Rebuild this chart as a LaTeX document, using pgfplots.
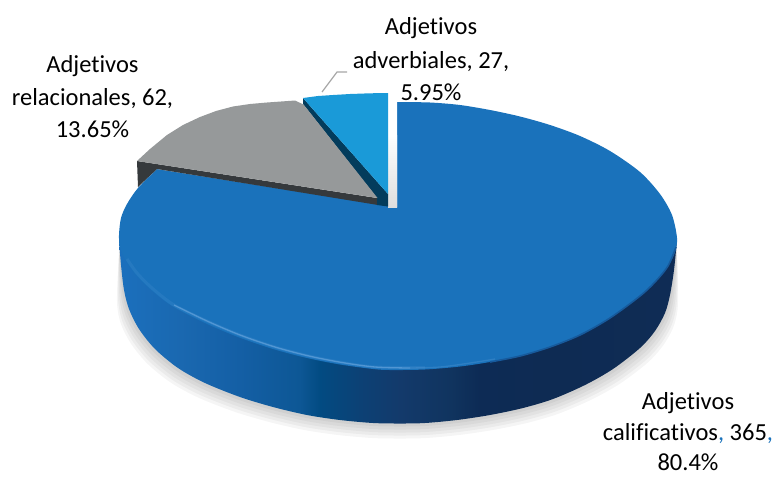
\documentclass[border=0pt]{standalone}
\usepackage{pgfplots}
\usepackage{pgfplotstable}
\usepackage{fontspec}
\setmainfont{Carlito}[Ligatures=NoCommon]
\pgfplotsset{compat=1.18}
\definecolor{topblue}{HTML}{1A72BB}
\definecolor{rimlight}{HTML}{6AA6DE}
\definecolor{rimdark}{HTML}{175A9C}
\definecolor{slicegray}{HTML}{96999A}
\definecolor{darkgray}{HTML}{35393C}
\definecolor{darkteal}{HTML}{033C5C}
\definecolor{lightblue}{HTML}{1A9AD8}
\definecolor{sa}{HTML}{1B6FBC}
\definecolor{sb}{HTML}{1A68B0}
\definecolor{sc}{HTML}{145FA5}
\definecolor{sd}{HTML}{0D5795}
\definecolor{se}{HTML}{024B82}
\definecolor{sf}{HTML}{0C4175}
\definecolor{sg}{HTML}{133A6B}
\definecolor{sh}{HTML}{10345F}
\definecolor{si}{HTML}{0D2B55}
\definecolor{sj}{HTML}{0E2B53}
\definecolor{sk}{HTML}{0F2C55}
\pgfdeclarehorizontalshading{pieside}{100bp}{color(0bp)=(sa);color(25.5bp)=(sa);color(30.5bp)=(sb);color(35.8bp)=(sc);color(41.2bp)=(sd);color(43bp)=(se);color(46.6bp)=(sf);color(50.2bp)=(sg);color(54.7bp)=(sh);color(57.3bp)=(si);color(63.6bp)=(sj);color(75bp)=(sk);color(100bp)=(sk)}
\pgfdeclareverticalshading{gapshade}{100bp}{color(0bp)=(black!13);color(25bp)=(black!13);color(75bp)=(white);color(100bp)=(white)}
\pgfplotstableread{
x y
119 240
121 265
124 290
129 309
139 329
155 349
178 368
205 383
240 397
273 407
307 415
340 420
373 423
400 423.5
425 423
457 420
490 415
523 408
553 399
585 385
613 369
640 348
655 331
665 313
670 295
674 270
677 240
}\silhouette
\newcommand{\shadowlayer}[2]{\addplot[fill=black,draw=none,fill opacity=0.04,smooth,tension=0.5] table[x expr={398+(\thisrow{x}-398)*(1+#1*min(1,(\thisrow{y}-240)/60))},y expr={\thisrow{y}+#2}] {\silhouette};}
\begin{document}
\begin{tikzpicture}[x=1pt,y=1pt]
\path[use as bounding box] (0,0) rectangle (783,477);
\begin{axis}[at={(0,0)},anchor=south west,scale only axis,width=783pt,height=477pt,
  xmin=0,xmax=783,ymin=0,ymax=477,y dir=reverse,hide axis,clip=false,no markers]
% soft shadow
\shadowlayer{0.030}{15}
\shadowlayer{0.025}{12}
\shadowlayer{0.019}{9}
\shadowlayer{0.013}{6}
\shadowlayer{0.007}{3}
% side of the large slice
\addplot[shading=pieside,draw=none,smooth,tension=0.5] table[x=x,y=y] {\silhouette};
% top of the large slice: 80.4%
\addplot[fill=topblue,draw=none,smooth,tension=0.5] coordinates {
(397,102)(430,102.5)(460,105)(490,110)(520,116.5)(550,125)(580,136)(610,151)(640,172)(660,194)(672,215)(677,238)
(675,252)(668,266)(655,282)(640,296)(610,318)(580,335)(550,347)(520,356)(490,362)(460,366.5)(425,369.5)(390,370)
(373,369)(340,364.5)(307,358)(273,349)(238,337)(205,323)(172,306)(150,289)(135,274)(125,259)(120,247)(119,235)
(121,218)(127,204)(138,188)(157,169)};
% rim light and shade
\addplot[rimdark,line width=1.6pt,smooth,tension=0.5] coordinates {(676,247)(668,266)(655,282)(640,296)(610,318)(580,335)(550,347)(520,356)(490,362)};
\addplot[rimlight,line width=3pt,opacity=0.15,smooth,tension=0.5] coordinates {(127,259)(137,273)(152,288)(174,305)(207,321)(240,335)(275,347)(309,356)(342,362.5)(375,367)(425,367.5)};
\addplot[rimlight,line width=1.3pt,opacity=0.65,smooth,tension=0.5] coordinates {(174,305)(207,321)(240,335)(275,347)(309,356)(342,362.5)(375,367)(410,368)};
\addplot[rimlight,line width=1.3pt,opacity=0.25,smooth,tension=0.5] coordinates {(410,368)(440,367)(470,363)(495,359)};
% notch of the large slice
\addplot[fill=white,draw=none] coordinates {(157,169)(397,207)(397,96)(157,96)};
\addplot[shading=gapshade,draw=none] coordinates {(388,135)(397,135)(397,207)(388,207)};
% slice edges
\addplot[fill=darkgray,draw=none] coordinates {(137,161)(377,198)(378,205)(157,169)(140,185)(138,187)};
\addplot[fill=darkteal,draw=none] coordinates {(303,98)(388,194)(388,206.5)(377,205)(377,198)(303,104)};
% slice: 13.65%
\addplot[fill=slicegray,draw=none] coordinates {(137,161)(150,149)(167,135)(183,125)(200,117)(216,111)(233,106.5)(250,104)(267,102.5)(295,100.5)(303.5,104.5)(377.5,198)};
% slice: 5.95%
\addplot[fill=lightblue,draw=none] coordinates {(303,98)(318,96)(333,95)(350,94)(370,93.3)(388,93)(388,194)};
% leader line
\addplot[color=black!35,line width=1.2pt] coordinates {(322,92)(337,72)(347,72)};
% labels
\tikzset{lab/.style={anchor=base,inner sep=0pt,outer sep=0pt,font=\fontsize{24.5}{30}\selectfont}}
\node[lab] at (axis cs:92.5,72) {Adjetivos};
\node[lab] at (axis cs:92.5,105) {relacionales, 62,};
\node[lab] at (axis cs:92.5,137) {13.65\%};
\node[lab] at (axis cs:431,34) {Adjetivos};
\node[lab] at (axis cs:431,68) {adverbiales, 27,};
\node[lab] at (axis cs:431,100) {5.95\%};
\node[lab] at (axis cs:688,409) {Adjetivos};
\node[lab] at (axis cs:688,440) {calificativos{\color{topblue},} 365{\color{topblue},}};
\node[lab] at (axis cs:688,470) {80.4\%};
\end{axis}
\end{tikzpicture}
\end{document}
